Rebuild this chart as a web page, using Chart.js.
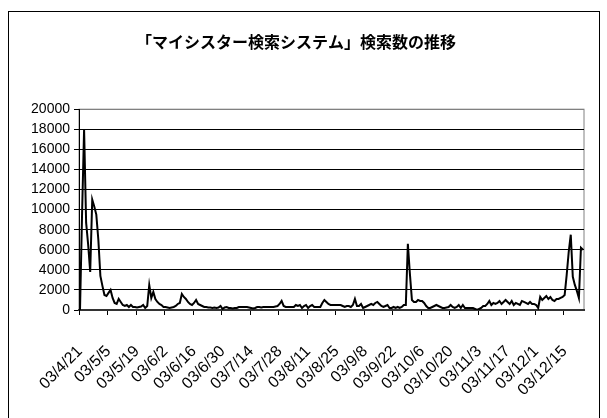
<!DOCTYPE html>
<html>
<head>
<meta charset="utf-8">
<script src="https://cdn.jsdelivr.net/npm/chart.js@4"></script>
<style>
  html, body { margin: 0; padding: 0; background: #fff; }
</style>
</head>
<body>
<canvas id="searchChart" width="607" height="418"></canvas>
<script>
// Daily search counts, 03/4/21 - 03/12/24
const startDate = new Date(2003, 3, 21);
const dayCount = 248;
const categories = [];
for (let i = 0; i < dayCount; i++) {
    const d = new Date(startDate.getFullYear(), startDate.getMonth(), startDate.getDate() + i);
    categories.push('03/' + (d.getMonth() + 1) + '/' + d.getDate());
}

const tickLabels = ["03/4/21","03/5/5","03/5/19","03/6/2","03/6/16","03/6/30","03/7/14","03/7/28",
    "03/8/11","03/8/25","03/9/8","03/9/22","03/10/6","03/10/20","03/11/3","03/11/17","03/12/1","03/12/15"];

const searchCounts = [
    0, 9500, 18000, 8700, 6500, 3800, 11000, 10300, 9500, 7000,
    3400, 2400, 1500, 1400, 1700, 2000, 1200, 700, 600, 1100,
    800, 500, 400, 500, 300, 500, 300, 300, 250, 300,
    350, 500, 200, 400, 2500, 1200, 1800, 1100, 800, 600,
    500, 300, 300, 250, 200, 250, 300, 400, 600, 700,
    1600, 1300, 1100, 800, 600, 500, 700, 1000, 600, 500,
    400, 300, 300, 250, 250, 200, 250, 200, 250, 400,
    100, 250, 300, 200, 200, 150, 200, 200, 300, 300,
    300, 300, 300, 250, 200, 150, 200, 300, 300, 250,
    300, 300, 300, 300, 300, 300, 350, 400, 600, 900,
    400, 300, 300, 300, 300, 300, 500, 400, 500, 200,
    400, 500, 200, 400, 500, 300, 300, 300, 300, 700,
    1000, 800, 600, 500, 500, 500, 500, 500, 500, 400,
    300, 400, 400, 300, 500, 1100, 400, 400, 600, 200,
    300, 400, 500, 600, 500, 700, 800, 600, 400, 300,
    400, 500, 200, 200, 300, 200, 300, 200, 300, 500,
    500, 6600, 3600, 1000, 800, 800, 1000, 900, 900, 700,
    400, 200, 200, 300, 400, 500, 400, 300, 200, 200,
    250, 300, 500, 300, 200, 300, 500, 200, 500, 200,
    200, 200, 200, 200, 100, 0, 100, 200, 400, 400,
    600, 900, 500, 700, 600, 700, 900, 600, 800, 1000,
    800, 600, 900, 500, 700, 600, 500, 900, 800, 700,
    600, 800, 600, 600, 500, 200, 1300, 1000, 1200, 1400,
    1100, 1300, 1000, 900, 1100, 1100, 1200, 1300, 1500, 3500,
    5800, 7500, 3300, 2500, 1900, 1200, 6200, 6000
];

const yTicks = { min: 0, max: 20000, step: 2000 };

// Outer frame + grey plot area border
const framePlugin = {
    id: 'frame',
    beforeDraw(chart) {
        const { ctx, chartArea: a } = chart;
        ctx.save();
        ctx.fillStyle = '#fff';
        ctx.fillRect(0, 0, chart.width, chart.height);
        ctx.strokeStyle = '#000';
        ctx.lineWidth = 1;
        ctx.strokeRect(8.5, 11.5, 591, 420);
        ctx.strokeStyle = '#808080';
        ctx.strokeRect(a.left, a.top, a.right - a.left, a.bottom - a.top);
        ctx.restore();
    }
};

new Chart(document.getElementById('searchChart'), {
    type: 'line',
    data: {
        labels: categories,
        datasets: [{
            data: searchCounts,
            borderColor: '#000',
            borderWidth: 2,
            pointRadius: 0,
            tension: 0,
            fill: false
        }]
    },
    options: {
        responsive: false,
        animation: false,
        devicePixelRatio: 1,
        layout: { padding: { left: 8, right: 23, top: 0, bottom: 0 } },
        plugins: {
            legend: { display: false },
            tooltip: { enabled: false },
            title: {
                display: true,
                text: '「マイシスター検索システム」検索数の推移',
                color: '#000',
                font: { family: '"Noto Sans CJK JP", sans-serif', size: 16, weight: 'bold' },
                padding: { top: 32, bottom: 58 }
            }
        },
        scales: {
            x: {
                type: 'category',
                offset: true,
                afterFit: (s) => {
                    s.height = 108;
                    s.paddingLeft = 0;
                    s.paddingRight = 0;
                },
                border: { color: '#333', width: 2 },
                grid: {
                    offset: true,
                    drawOnChartArea: false,
                    tickLength: 5,
                    color: (c) => (c.index % 14 === 0 ? '#000' : 'rgba(0,0,0,0)')
                },
                ticks: {
                    autoSkip: false,
                    minRotation: 45,
                    maxRotation: 45,
                    padding: 27,
                    color: '#000',
                    font: { family: '"Liberation Sans Narrow", "Liberation Sans", Arial, sans-serif', size: 16 },
                    callback: (v, i) => (i % 14 === 0 ? tickLabels[i / 14] : '')
                }
            },
            y: {
                min: yTicks.min,
                max: yTicks.max,
                afterFit: (s) => { s.width = 71; },
                border: { color: '#000' },
                grid: {
                    color: (c) => (c.tick && c.tick.value === yTicks.max ? '#808080' : '#000'),
                    tickColor: '#000',
                    tickLength: 5
                },
                ticks: {
                    stepSize: yTicks.step,
                    color: '#000',
                    padding: 4,
                    font: { family: '"Liberation Sans Narrow", "Liberation Sans", Arial, sans-serif', size: 14 },
                    callback: (v) => String(v)
                }
            }
        }
    },
    plugins: [framePlugin]
});
</script>
</body>
</html>
